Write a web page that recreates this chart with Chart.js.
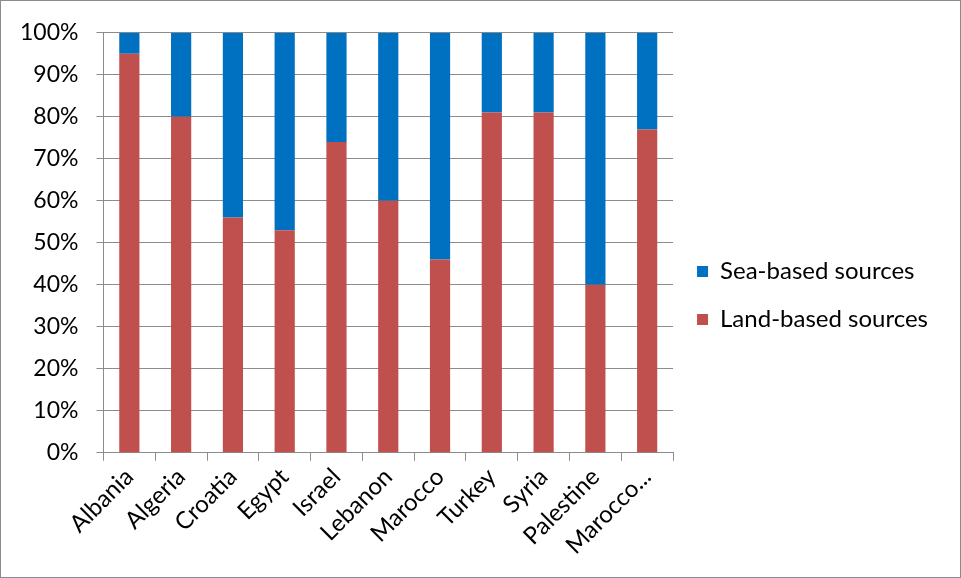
<!DOCTYPE html>
<html>
<head>
<meta charset="utf-8">
<script src="https://cdn.jsdelivr.net/npm/chart.js@4"></script>
<style>
  html, body { margin: 0; padding: 0; background: #fff; }
  #wrap { position: relative; width: 961px; height: 578px; box-sizing: border-box; border: 1px solid #8c8c8c; }
</style>
</head>
<body>
<div id="wrap"><canvas id="chart"></canvas></div>
<script>
const countries = ['Albania', 'Algeria', 'Croatia', 'Egypt', 'Israel', 'Lebanon', 'Marocco', 'Turkey', 'Syria', 'Palestine', 'Marocco...'];
const landBased = [95, 80, 56, 53, 74, 60, 46, 81, 81, 40, 77];
const seaBased = [5, 20, 44, 47, 26, 40, 54, 19, 19, 60, 23];
const yTicks = [0, 10, 20, 30, 40, 50, 60, 70, 80, 90, 100];

Chart.defaults.font.family = 'Lato, "Open Sans", sans-serif';
Chart.defaults.color = '#000';

new Chart(document.getElementById('chart'), {
  type: 'bar',
  data: {
    labels: countries,
    datasets: [
      { label: 'Land-based sources', data: landBased, backgroundColor: '#C0504D', barPercentage: 0.39, categoryPercentage: 1 },
      { label: 'Sea-based sources', data: seaBased, backgroundColor: '#0070C0', barPercentage: 0.39, categoryPercentage: 1 }
    ]
  },
  options: {
    responsive: true,
    maintainAspectRatio: false,
    animation: false,
    layout: { padding: { left: 1, top: 28, right: 22, bottom: 15 } },
    plugins: {
      tooltip: { enabled: false },
      legend: {
        position: 'right',
        reverse: true,
        maxWidth: 400,
        labels: { boxWidth: 11, boxHeight: 11, padding: 24, font: { size: 24 } }
      }
    },
    scales: {
      x: {
        stacked: true,
        grid: { drawOnChartArea: false, color: '#8c8c8c', tickLength: 8 },
        border: { color: '#8c8c8c' },
        ticks: { maxRotation: 45, minRotation: 45, font: { size: 24 }, padding: 2 }
      },
      y: {
        stacked: true,
        min: 0,
        max: 100,
        afterBuildTicks: axis => { axis.ticks = yTicks.map(v => ({ value: v })); },
        grid: { color: '#8c8c8c', tickLength: 7 },
        border: { color: '#8c8c8c' },
        ticks: { font: { size: 23 }, padding: 18, callback: v => v + '%' }
      }
    }
  }
});
</script>
</body>
</html>
